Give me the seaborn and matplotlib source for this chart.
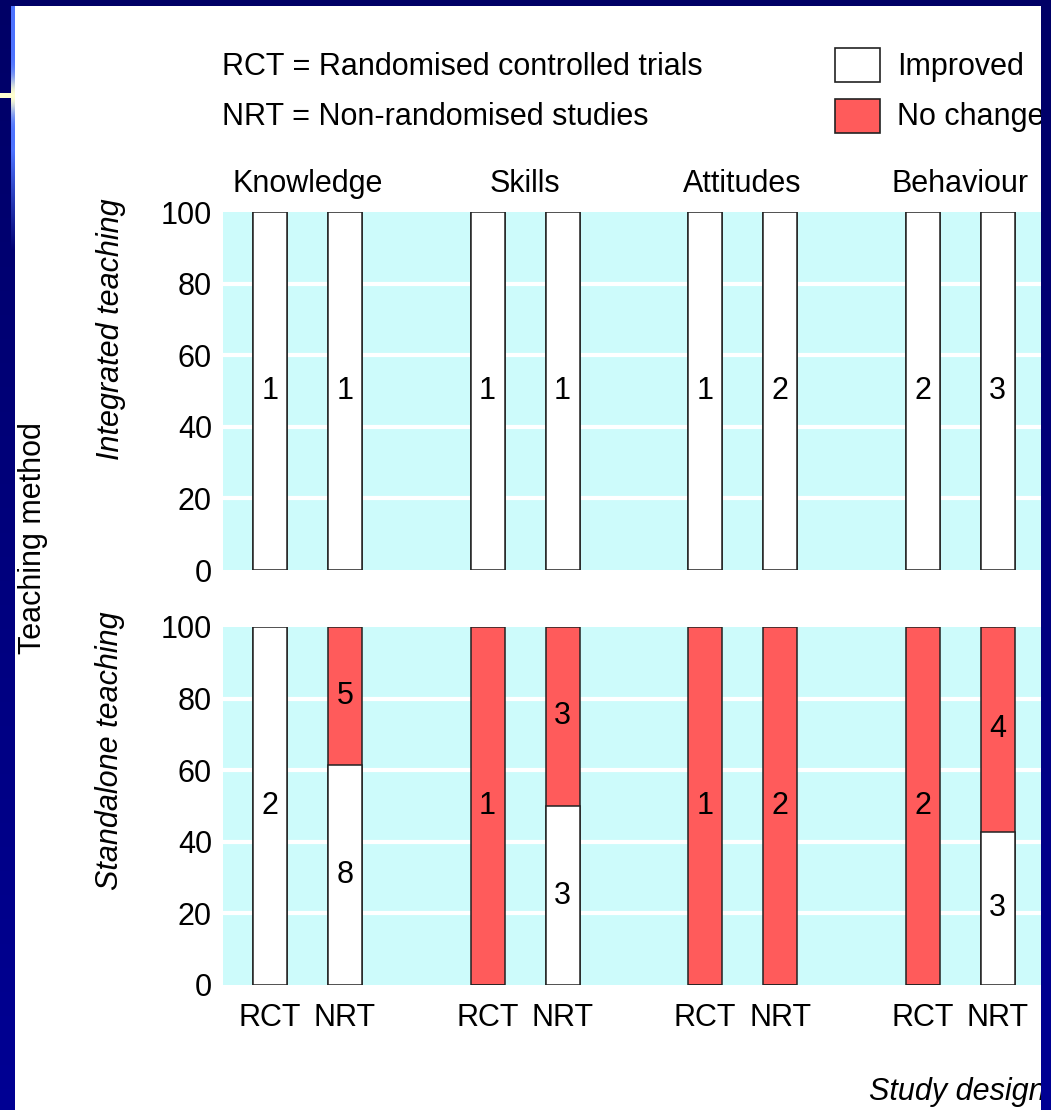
import numpy as np
import pandas as pd
import matplotlib
matplotlib.use('Agg')
import matplotlib.pyplot as plt
import seaborn as sns
from matplotlib.patches import Rectangle

# ---- data (number of studies per bar) ----
topics = ['Knowledge', 'Skills', 'Attitudes', 'Behaviour']
designs = ['RCT', 'NRT']
panels = ['Integrated teaching', 'Standalone teaching']
# order: Knowledge RCT, Knowledge NRT, Skills RCT, Skills NRT, ...
integrated_improved = [1, 1, 1, 1, 1, 2, 2, 3]
integrated_nochange = [0, 0, 0, 0, 0, 0, 0, 0]
standalone_improved = [2, 8, 0, 3, 0, 0, 0, 3]
standalone_nochange = [0, 5, 1, 3, 1, 2, 2, 4]
y_ticks = [0, 20, 40, 60, 80, 100]

RED = '#FF5B5B'
CYAN = '#CDFBFB'
EDGE = '#222222'
BAR_W = 0.453
GROUP_STEP = 2.9

W, H = 1051, 1110


def frac(x0, y0, x1, y1):
    # pixel box -> figure fraction
    return [x0 / W, 1 - y1 / H, (x1 - x0) / W, (y1 - y0) / H]


rows = []
for panel, imp, noc in [(panels[0], integrated_improved, integrated_nochange),
                        (panels[1], standalone_improved, standalone_nochange)]:
    for i, (a, b) in enumerate(zip(imp, noc)):
        g, d = divmod(i, 2)
        rows.append(dict(panel=panel, topic=topics[g], design=designs[d],
                         improved=a, nochange=b))
df = pd.DataFrame(rows)
df['pos'] = (df['topic'].map({t: GROUP_STEP * i for i, t in enumerate(topics)})
             + df['design'].map({'RCT': 0, 'NRT': 1}))
df['total'] = 100.0
df['pct_improved'] = 100 * df['improved'] / (df['improved'] + df['nochange'])

sns.set_style('white')
plt.rcParams['font.family'] = ['Liberation Sans', 'DejaVu Sans']
plt.rcParams['text.color'] = 'black'
plt.rcParams['xtick.color'] = 'black'
plt.rcParams['ytick.color'] = 'black'

fig = plt.figure(figsize=(W / 100, H / 100), dpi=100)
fig.patch.set_facecolor('white')

ax_top = fig.add_axes(frac(223, 212, 1045, 570))
ax_bot = fig.add_axes(frac(223, 627, 1045, 985))

for ax, panel in zip([ax_top, ax_bot], panels):
    sub = df[df['panel'] == panel]
    ax.set_facecolor(CYAN)
    for lvl in y_ticks[1:-1]:
        ax.axhline(lvl, color='white', lw=3, zorder=0.5)
    # full bar = no change, improved share drawn on top in white
    sns.barplot(data=sub, x='pos', y='total', native_scale=True, width=BAR_W,
                color=RED, saturation=1, edgecolor=EDGE, linewidth=1.1,
                errorbar=None, ax=ax, zorder=2)
    sns.barplot(data=sub, x='pos', y='pct_improved', native_scale=True, width=BAR_W,
                color='white', saturation=1, edgecolor=EDGE, linewidth=1.1,
                errorbar=None, ax=ax, zorder=3)
    for _, r in sub.iterrows():
        if r['improved'] > 0:
            ax.text(r['pos'], r['pct_improved'] / 2, str(r['improved']),
                    ha='center', va='center', fontsize=22, zorder=5)
        if r['nochange'] > 0:
            ax.text(r['pos'], r['pct_improved'] + (100 - r['pct_improved']) / 2,
                    str(r['nochange']), ha='center', va='center', fontsize=22, zorder=5)

    for s in ax.spines.values():
        s.set_visible(False)
    ax.set_ylim(0, 100)
    ax.set_xlim(-0.627, 10.33)
    ax.set_yticks(y_ticks)
    ax.tick_params(axis='y', length=0, pad=8, labelsize=22)
    ax.set_xlabel('')
    ax.set_ylabel('')

ax_top.set_xticks([])
ax_bot.set_xticks(df[df['panel'] == panels[1]]['pos'])
ax_bot.set_xticklabels(df[df['panel'] == panels[1]]['design'])
ax_bot.tick_params(axis='x', length=0, pad=13, labelsize=22)

for g, t in enumerate(topics):
    ax_top.text(GROUP_STEP * g + 0.5, 105.6, t, ha='center', va='baseline',
                fontsize=22, clip_on=False)

# panel labels
fig.text(111 / W, 1 - 329 / H, panels[0], rotation=90, style='italic',
         ha='center', va='center', fontsize=22)
fig.text(110 / W, 1 - 751 / H, panels[1], rotation=90, style='italic',
         ha='center', va='center', fontsize=22)
fig.text(48 / W, 1 - 538 / H, 'Teaching method', rotation=90,
         ha='right', va='center', fontsize=22)
fig.text(1046 / W, 1 - 1100 / H, 'Study design', style='italic',
         ha='right', va='baseline', fontsize=22)

# key
fig.text(222 / W, 1 - 75 / H, 'RCT = Randomised controlled trials', va='baseline', fontsize=22)
fig.text(222 / W, 1 - 125 / H, 'NRT = Non-randomised studies', va='baseline', fontsize=22)
fig.text(897 / W, 1 - 75 / H, 'Improved', va='baseline', fontsize=22)
fig.text(897 / W, 1 - 125 / H, 'No change', va='baseline', fontsize=22)

# overlay in pixel coords: key boxes + slide frame
ov = fig.add_axes([0, 0, 1, 1], zorder=10)
ov.patch.set_visible(False)
ov.axis('off')
ov.add_patch(Rectangle((835, 48), 45, 34, facecolor='white', edgecolor=EDGE, lw=1.2))
ov.add_patch(Rectangle((835, 99), 45, 34, facecolor=RED, edgecolor=EDGE, lw=1.2))

navy_top = np.array([0.0, 0.0, 0.40])
navy_bot = np.array([0.0, 0.0, 0.58])
yy = np.arange(H)[:, None] / H
left = np.repeat((navy_top + (navy_bot - navy_top) * yy)[:, None, :], 15, axis=1)
ys = np.arange(H)
blue = np.array([0.30, 0.45, 1.0])
pale = np.array([1.0, 1.0, 0.82])
fade = np.clip((250 - ys) / 100, 0, 1)[:, None]
glow = np.exp(-((ys - 95) / 18.0) ** 2)[:, None]
stripe = blue * (1 - glow) + pale * glow
for c in range(11, 15):
    left[:, c, :] = left[:, c, :] * (1 - fade) + stripe * fade
left[93:98, :11, :] = pale
right = np.repeat((navy_top + (navy_bot - navy_top) * yy)[:, None, :], 10, axis=1)
ov.imshow(left, extent=(0, 15, H, 0), aspect='auto', interpolation='nearest')
ov.imshow(right, extent=(1041, W, H, 0), aspect='auto', interpolation='nearest')
ov.add_patch(Rectangle((0, 0), W, 6, facecolor=navy_top, edgecolor='none'))
ov.set_xlim(0, W)
ov.set_ylim(H, 0)

fig.savefig('out.png', dpi=100)
